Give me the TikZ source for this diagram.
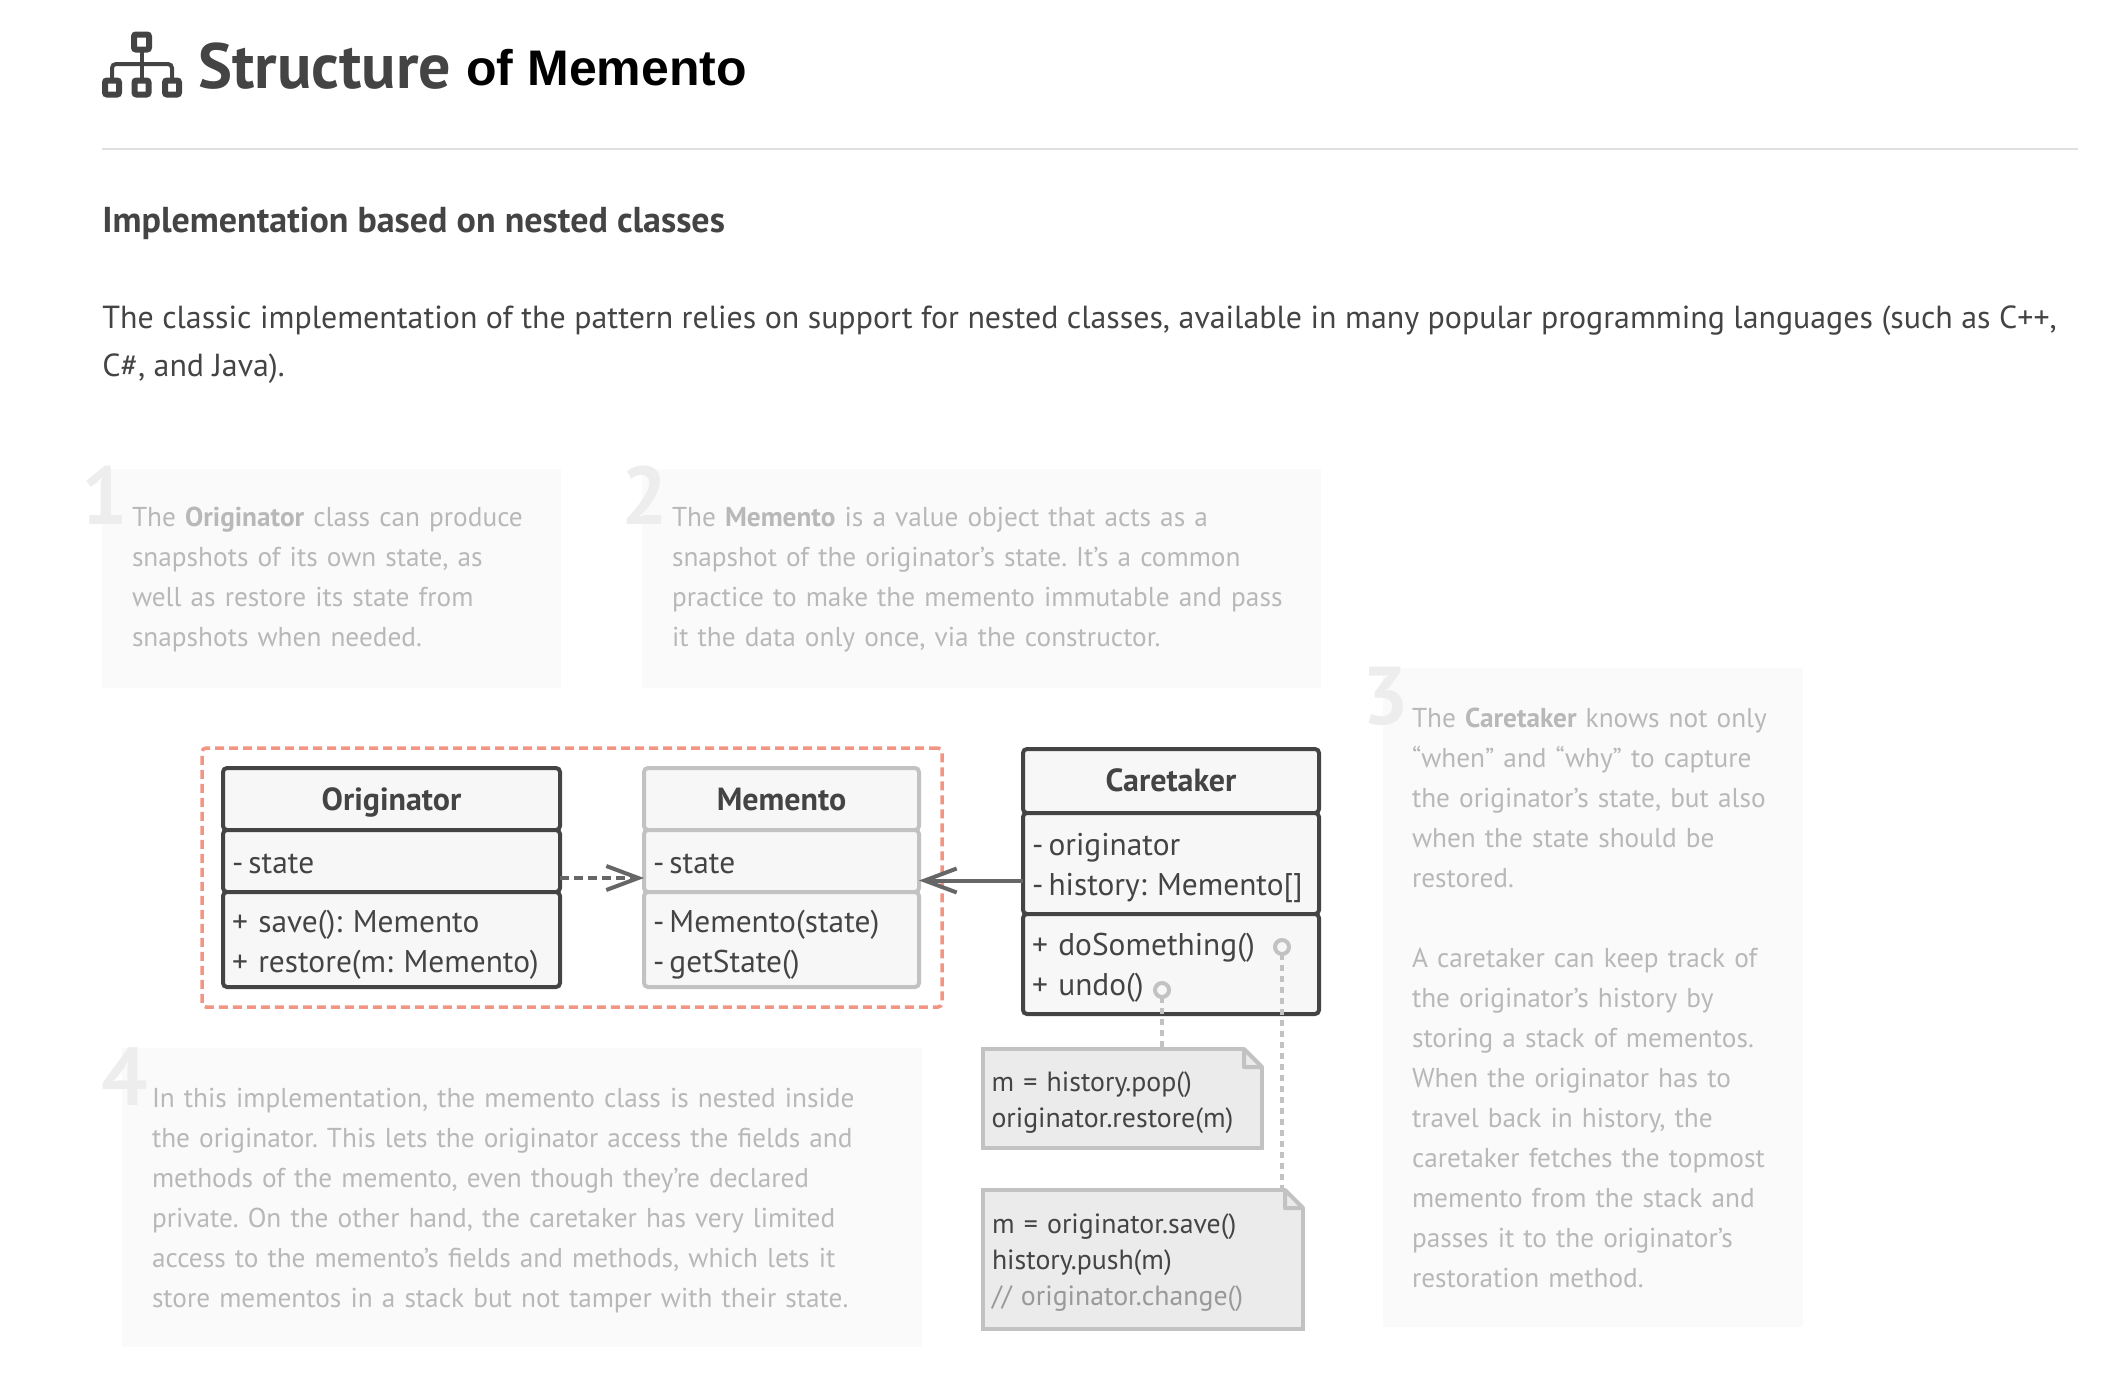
\documentclass[tikz,border=0pt]{standalone}
\usepackage{fontspec}
\setmainfont{PT Sans}
\newfontfamily\headfont{Liberation Sans}
\usepackage{tikz}
\usetikzlibrary{positioning,arrows.meta}
\frenchspacing
\newcommand{\priv}{-\kern2.6pt}
\definecolor{ink}{HTML}{444444}
\definecolor{soft}{HTML}{C2C2C2}
\definecolor{cardfill}{HTML}{FAFAFA}
\definecolor{cardtext}{HTML}{B8B8B8}
\definecolor{numcol}{HTML}{EDEDED}
\definecolor{boxfill}{HTML}{F7F7F7}
\definecolor{notefill}{HTML}{EBEBEB}
\definecolor{salmon}{HTML}{F29583}
\definecolor{arrowcol}{HTML}{666666}

\begin{document}
\begin{tikzpicture}[
x=0.5pt,y=-0.5pt,
txt/.style={anchor=base west,inner sep=0pt,text=ink},
card/.style={
  anchor=north west,
  fill=cardfill,
  inner xsep=15pt,
  inner ysep=0pt,
  outer sep=0pt,
  align=left,
  text=cardtext,
  font=\fontsize{13.65}{20}\selectfont
},
num/.style={
  anchor=base west,
  inner sep=0pt,
  text=numcol,
  font=\fontsize{41}{41}\selectfont\bfseries
},
ubox/.style={
  draw=ink,
  line width=2pt,
  rounded corners=2pt,
  fill=boxfill,
  outer sep=0pt,
  inner xsep=4.5pt,
  inner ysep=0pt,
  text=ink,
  align=left,
  font=\fontsize{15.7}{20}\selectfont
},
uhead/.style={ubox,align=center,text depth=0pt,font=\fontsize{16}{20}\selectfont\bfseries},
note/.style={
  anchor=north west,
  draw=soft,
  line width=2pt,
  fill=notefill,
  outer sep=0pt,
  inner xsep=4pt,
  inner ysep=0pt,
  text=ink,
  align=left,
  font=\fontsize{13.9}{18}\selectfont
},
hole/.style={circle,draw=soft,line width=2pt,fill=none,minimum size=7pt,inner sep=0pt,outer sep=0pt},
link/.style={draw=soft,line width=2pt,dash pattern=on 3pt off 2.5pt},
icon/.style={draw=ink,line width=3pt,rounded corners=1pt,minimum size=7pt,inner sep=0pt,outer sep=0pt},
arr/.style={draw=arrowcol,line width=2pt,-{Straight Barb[length=16pt,width=12pt]}}
]
\useasboundingbox (0,0) rectangle (2128,1392);

% header
\node[icon,minimum size=7.5pt] (top) at (141.5,42) {};
\node[icon] (leaf1) at (112,87.5) {};
\node[icon] (leaf2) at (141.5,87.5) {};
\node[icon] (leaf3) at (172,87.5) {};
\coordinate (bar) at (141,64);
\draw[ink,line width=2pt,rounded corners=2pt] (leaf1) -- (leaf1|-bar) -- (leaf3|-bar) -- (leaf3);
\draw[ink,line width=2pt] (top) -- (leaf2);
\node[txt,font=\fontsize{32}{32}\selectfont\bfseries] (struct) at (198,88) {Structure};
\node[txt,text=black,font=\headfont\fontsize{25}{25}\selectfont\bfseries] (ofmem) at (466,85) {of Memento};
\coordinate (ruleA) at (102,149);
\coordinate (ruleB) at (2078,149);
\draw[black!12,line width=1pt] (ruleA) -- (ruleB);
\node[txt,font=\fontsize{18}{20}\selectfont\bfseries] (head) at (102,232) {Implementation based on nested classes};
\node[txt,font=\fontsize{15.95}{24}\selectfont] (para1) at (102,328)
  {The classic implementation of the pattern relies on support for nested classes, available in many popular programming languages (such as C++,};
\node[txt,font=\fontsize{15.95}{24}\selectfont] (para2) at (102,376) {C\#, and Java).};

% cards
\node[card,text depth=61.4pt,minimum width=229.5pt,minimum height=109.5pt,text width=199.5pt] (card1) at (102,469)
  {The \textbf{Originator} class can produce\\snapshots of its own state, as\\well as restore its state from\\snapshots when needed.};
\node[card,text depth=61.4pt,minimum width=339.5pt,minimum height=109.5pt,text width=309.5pt] (card2) at (642,469)
  {The \textbf{Memento} is a value object that acts as a\\snapshot of the originator’s state. It’s a common\\practice to make the memento immutable and pass\\it the data only once, via the constructor.};
\node[card,text depth=280pt,inner xsep=14.5pt,minimum width=210pt,minimum height=329.5pt,text width=181pt] (card3) at (1383,668)
  {The \textbf{Caretaker} knows not only\\“when” and “why” to capture\\the originator’s state, but also\\when the state should be\\restored.\\[20pt]A caretaker can keep track of\\the originator’s history by\\storing a stack of mementos.\\When the originator has to\\travel back in history, the\\caretaker fetches the topmost\\memento from the stack and\\passes it to the originator’s\\restoration method.};
\node[card,text depth=100pt,minimum width=400pt,minimum height=149.5pt,text width=370pt] (card4) at (122,1048)
  {In this implementation, the memento class is nested inside\\the originator. This lets the originator access the fields and\\methods of the memento, even though they’re declared\\private. On the other hand, the caretaker has very limited\\access to the memento’s fields and methods, which lets it\\store mementos in a stack but not tamper with their state.};
\node[num] (num1) at (81,524) {1};
\node[num] (num2) at (621,524) {2};
\node[num] (num3) at (1362,724) {3};
\node[num] (num4) at (101,1105) {4};

% frame goes first
\node[anchor=north west,draw=salmon,line width=1.75pt,rounded corners=2pt,dash pattern=on 4.5pt off 2.5pt,minimum width=370pt,minimum height=129.5pt,outer sep=0pt] (frame) at (202,748) {};

% Originator
\node[ubox,uhead,anchor=north west,minimum width=168.5pt,minimum height=31pt,text width=159.5pt] (orihead) at (223,768) {Originator};
\node[ubox,text height=13pt,below=0pt of orihead,minimum width=168.5pt,minimum height=31pt,text width=159.5pt] (orimid) {\priv state};
\node[ubox,text depth=18.5pt,below=0pt of orimid,minimum width=168.5pt,minimum height=47.5pt,text width=159.5pt] (orilow) {+ save(): Memento\\+ restore(m: Memento)};

% Memento
\node[ubox,uhead,draw=soft,anchor=north west,minimum width=137.5pt,minimum height=31pt,text width=128.5pt] (memhead) at (644,768) {Memento};
\node[ubox,text height=13pt,draw=soft,below=0pt of memhead,minimum width=137.5pt,minimum height=31pt,text width=128.5pt] (memmid) {\priv state};
\node[ubox,text depth=18.5pt,draw=soft,below=0pt of memmid,minimum width=137.5pt,minimum height=47.5pt,text width=128.5pt] (memlow) {\priv Memento(state)\\\priv getState()};

% Caretaker
\node[ubox,uhead,anchor=north west,minimum width=148pt,minimum height=32pt,text width=139pt,text depth=1.4pt] (carehead) at (1023,749) {Caretaker};
\node[ubox,text depth=19pt,below=0pt of carehead,minimum width=148pt,minimum height=50.5pt,text width=139pt] (caremid) {\priv originator\\\priv history: Memento[]};
\node[ubox,text depth=19.5pt,below=0pt of caremid,minimum width=148pt,minimum height=50pt,text width=139pt] (carelow) {+ doSomething()\\+ undo()};

\draw[arr,dash pattern=on 4.5pt off 2.5pt] ([yshift=-8.5pt]orimid.east) -- ([yshift=-8.5pt]memmid.west);
\draw[arr] ([yshift=-8.5pt]caremid.west) -- ([yshift=-8.5pt]caremid.west-|memmid.east);

% notes
\node[note,text depth=17pt,minimum width=139.5pt,minimum height=49.5pt,text width=131pt] (note1) at (983,1049) {m = history.pop()\\originator.restore(m)};
\node[note,text depth=35.7pt,minimum width=160pt,minimum height=69.5pt,text width=151pt] (note2) at (983,1190) {m = originator.save()\\history.push(m)\\\textcolor{gray!80}{// originator.change()}};
\foreach \n in {note1,note2}{
  \fill[white] ([shift={(-18,-2)}]\n.north east) -- ([shift={(2,-2)}]\n.north east) -- ([shift={(2,18)}]\n.north east) -- cycle;
  \draw[soft,line width=2pt,line join=round] ([xshift=-9pt]\n.north east) -- ([yshift=-9pt]\n.north east) -- ([shift={(-18,18)}]\n.north east) -- cycle;
}

\node[hole] (hole1) at (1162,990) {};
\node[hole] (hole2) at (1282,947) {};
\draw[link] (hole1) -- (hole1|-note1.north);
\draw[link] (hole2) -- (hole2|-note2.north);
\end{tikzpicture}
\end{document}
